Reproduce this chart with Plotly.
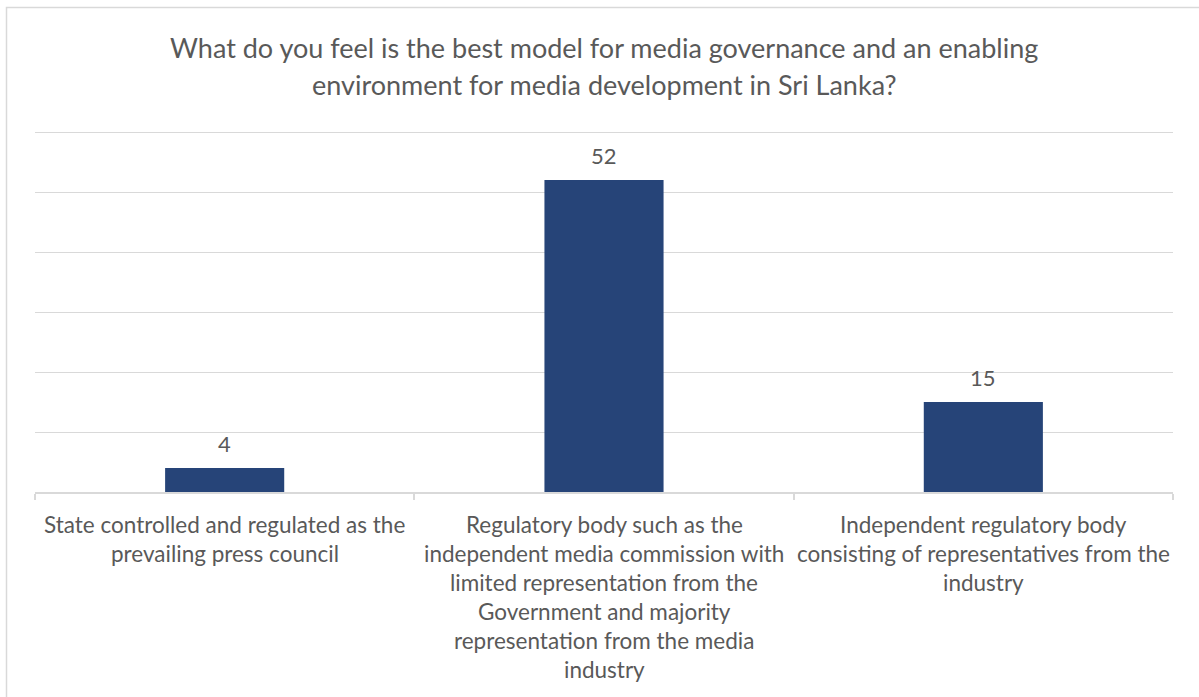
import plotly.graph_objects as go

# Survey answers and response counts
categories = [
    "State controlled and regulated as the<br>prevailing press council",
    "Regulatory body such as the<br>independent media commission with<br>limited representation from the<br>Government and majority<br>representation from the media<br>industry",
    "Independent regulatory body<br>consisting of representatives from the<br>industry",
]
counts = [4, 52, 15]
title_lines = [
    "What do you feel is the best model for media governance and an enabling",
    "environment for media development in Sri Lanka?",
]

BAR_COLOR = "#264478"
TEXT_COLOR = "#595959"
GRID_COLOR = "#d9d9d9"
FONT = "Lato"

W, H = 1199, 697
L, R, T, B = 35, 26, 129, 205
plot_w = W - L - R
plot_h = H - T - B
# 10 units per 60 px; the headroom keeps the top gridline (60) inside the plot
y_top = plot_h / 6.0

fig = go.Figure(
    go.Bar(
        x=list(range(len(categories))),
        y=counts,
        marker=dict(color=BAR_COLOR, line=dict(width=0)),
        hoverinfo="skip",
    )
)

annotations = []

# Value labels above each bar
for i, v in enumerate(counts):
    annotations.append(dict(
        x=i, y=v, xref="x", yref="y", text=str(v), showarrow=False,
        yanchor="middle", yshift=25,
        font=dict(family=FONT, size=22, color=TEXT_COLOR),
    ))

# Category labels, one annotation per line for Office-like line spacing
for i, label in enumerate(categories):
    for j, line in enumerate(label.split("<br>")):
        annotations.append(dict(
            x=i, y=0, xref="x", yref="paper", text=line, showarrow=False,
            yanchor="middle", yshift=-(32 + 29 * j),
            font=dict(family=FONT, size=22.5, color=TEXT_COLOR),
        ))

# Two-line chart title
for j, line in enumerate(title_lines):
    annotations.append(dict(
        x=0.5, y=1, xref="paper", yref="paper", text=line, showarrow=False,
        xanchor="center", yanchor="middle", yshift=[T - 47, T - 84][j],
        font=dict(family=FONT, size=27, color=TEXT_COLOR),
    ))

# Light outer chart border
def px_x(p):
    return (p - L) / plot_w

def px_y(p):
    return (H - B - p) / plot_h

shapes = [dict(
    type="rect", xref="paper", yref="paper",
    x0=px_x(6.5), x1=px_x(1210), y0=px_y(7.5), y1=px_y(710),
    line=dict(color=GRID_COLOR, width=1.5), fillcolor="rgba(0,0,0,0)",
    layer="below",
)]

fig.update_layout(
    width=W, height=H,
    margin=dict(l=L, r=R, t=T, b=B, pad=0),
    paper_bgcolor="white", plot_bgcolor="white",
    bargap=0.686,
    showlegend=False,
    annotations=annotations,
    shapes=shapes,
    font=dict(family=FONT, color=TEXT_COLOR),
)
fig.update_xaxes(
    type="category", range=[-0.5, 2.5],
    showticklabels=False, showgrid=False, zeroline=False,
    showline=True, linecolor=GRID_COLOR, linewidth=1.5,
    ticks="outside", tickson="boundaries", ticklen=6, tickcolor=GRID_COLOR, tickwidth=1.5,
)
fig.update_yaxes(
    range=[0, y_top], tick0=0, dtick=10, showticklabels=False,
    showgrid=True, gridcolor=GRID_COLOR, gridwidth=1.2,
    zeroline=False, showline=False,
)

fig.write_html("out.html")
